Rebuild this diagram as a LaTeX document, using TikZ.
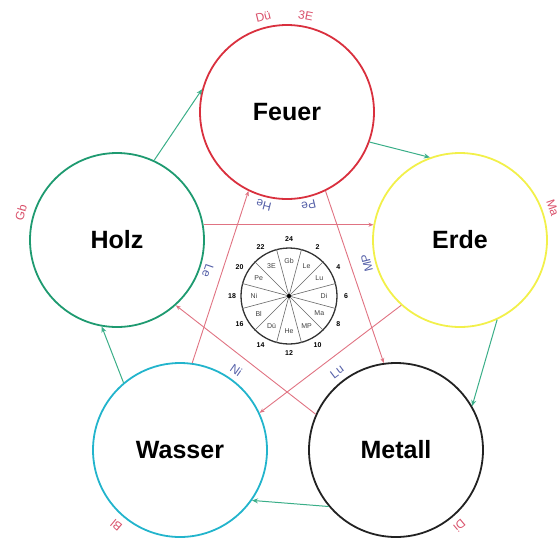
\documentclass[tikz,border=0pt]{standalone}
\usepackage{fontspec}
\setmainfont{Liberation Sans}
\usetikzlibrary{arrows.meta,calc}
\definecolor{cfeuer}{HTML}{D9303E}
\definecolor{cholz}{HTML}{1E9A70}
\definecolor{cerde}{HTML}{F2F04A}
\definecolor{cwasser}{HTML}{22B4CC}
\definecolor{cmetall}{HTML}{222222}
\definecolor{cgreen}{HTML}{3AAE88}
\definecolor{cred}{HTML}{E07382}
\definecolor{clabr}{HTML}{D9506A}
\definecolor{clabb}{HTML}{5560A8}
\begin{document}
\begin{tikzpicture}[x=1pt,y=-1pt,
  elem/.style={circle,minimum size=174pt,inner sep=0pt,line width=1.8pt},
  etext/.style={font=\bfseries\fontsize{25}{27}\selectfont,inner sep=0pt},
  sheng/.style={draw=cgreen,line width=1pt,-{Stealth[length=6pt,width=5pt]}},
  ke/.style={draw=cred,line width=0.9pt,-{Stealth[length=5pt,width=4pt]}},
  rlab/.style={text=clabr,font=\fontsize{12}{13}\selectfont,inner sep=0pt},
  blab/.style={text=clabb,font=\fontsize{12}{13}\selectfont,inner sep=0pt},
  clab/.style={font=\fontsize{7}{8}\selectfont,inner sep=0pt,text=black!75},
  cnum/.style={font=\bfseries\fontsize{7}{8}\selectfont,inner sep=0pt}]
\useasboundingbox (0,0) rectangle (560,539);
% elements
\node[elem,draw=cfeuer] (F) at (287,112) {};
\node[elem,draw=cholz] (H) at (117,240) {};
\node[elem,draw=cerde] (E) at (460,240) {};
\node[elem,draw=cwasser] (W) at (180,450) {};
\node[elem,draw=cmetall] (M) at (396,450) {};
\node[etext] (tF) at (F.center) {Feuer};
\node[etext] (tH) at (H.center) {Holz};
\node[etext] (tE) at (E.center) {Erde};
\node[etext] (tW) at (W.center) {Wasser};
\node[etext] (tM) at (M.center) {Metall};
% generating cycle
\draw[sheng] (H.65) -- (F.165);
\draw[sheng] (F.-20) -- (E.110);
\draw[sheng] (E.-65) -- (M.30);
\draw[sheng] (M.-140) -- (W.-35);
\draw[sheng] (W.130) -- (H.-100);
% control cycle
\draw[ke] (H.10) -- (E.170);
\draw[ke] (E.-132) -- (W.25);
\draw[ke] (W.82) -- (F.-116);
\draw[ke] (F.-64) -- (M.98);
\draw[ke] (M.156) -- (H.-48);
% outer labels
\node[rlab,rotate=14] (lDu) at ($(F.center)+(104:98pt)$) {Dü};
\node[rlab,rotate=-11] (l3E) at ($(F.center)+(79:98pt)$) {3E};
\node[blab,rotate=166] (lHe) at ($(F.center)+(-104:96pt)$) {He};
\node[blab,rotate=-167] (lPe) at ($(F.center)+(-77:96pt)$) {Pe};
\node[rlab,rotate=74] (lGb) at ($(H.center)+(164:100pt)$) {Gb};
\node[blab,rotate=-109] (lLe) at ($(H.center)+(-19:96pt)$) {Le};
\node[rlab,rotate=-71] (lMa) at ($(E.center)+(19:98pt)$) {Ma};
\node[blab,rotate=104] (lMP) at ($(E.center)+(194:96pt)$) {MP};
\node[blab,rotate=-35] (lNi) at ($(W.center)+(55:98pt)$) {Ni};
\node[rlab,rotate=140] (lBl) at ($(W.center)+(-130:99pt)$) {Bl};
\node[blab,rotate=37] (lLu) at ($(M.center)+(127:98pt)$) {Lu};
\node[rlab,rotate=-140] (lDi) at ($(M.center)+(-50:99pt)$) {Di};
% organ clock
\node[circle,draw=black!80,minimum size=96pt,inner sep=0pt,line width=1.3pt] (clk) at (289,296) {};
\foreach \a in {15,45,...,345} \draw[line width=0.6pt,black!60] (clk.center) -- (clk.\a);
\fill[black] (clk.center) circle[radius=2pt];
\foreach \t/\a/\n in {Gb/90/24,Le/60/2,Lu/30/4,Di/0/6,Ma/-30/8,MP/-60/10,He/-90/12,Dü/-120/14,Bl/-150/16,Ni/180/18,Pe/150/20,3E/120/22}{
  \node[clab] (s\n) at ($(clk.center)+(\a:35pt)$) {\t};
  \node[cnum] (n\n) at ($(clk.center)+(\a:57pt)$) {\n};
}
\end{tikzpicture}
\end{document}
